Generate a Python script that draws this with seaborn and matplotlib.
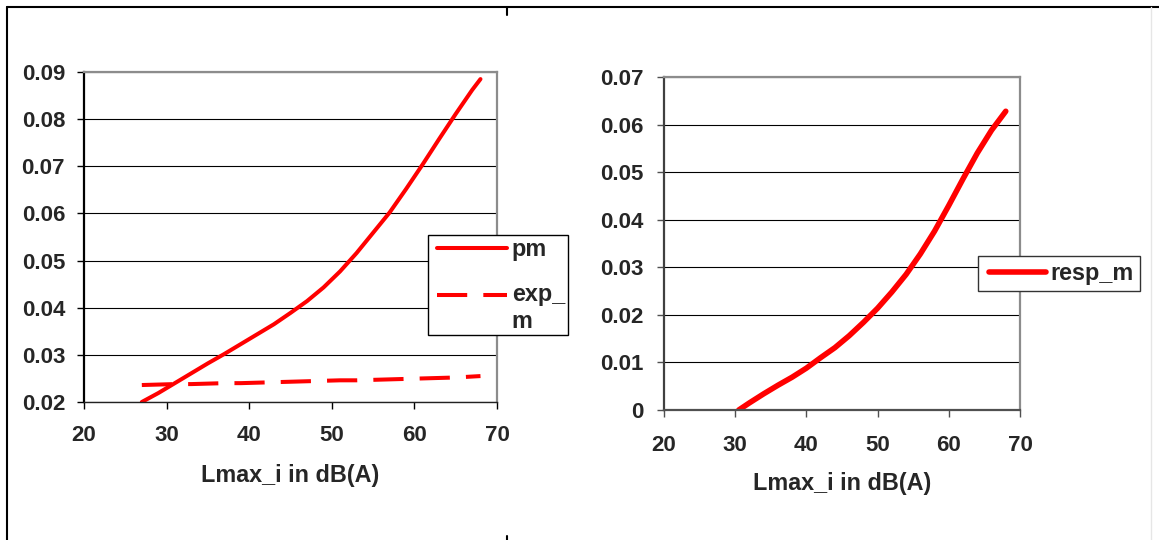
import numpy as np
import matplotlib
matplotlib.use("Agg")
import matplotlib.pyplot as plt
import seaborn as sns
from matplotlib.lines import Line2D
from matplotlib.legend_handler import HandlerLine2D
from matplotlib.ticker import FuncFormatter, MultipleLocator

# Left panel: probability curves against maximum level
level_left = [27, 29, 31, 33, 35, 37, 39, 41, 43, 45, 47, 49, 51, 53, 55,
              57, 59, 61, 63, 65, 67, 68]
pm = [0.0200, 0.0219, 0.0240, 0.0261, 0.0282, 0.0302, 0.0323, 0.0344,
      0.0365, 0.0389, 0.0414, 0.0443, 0.0477, 0.0516, 0.0559, 0.0602,
      0.0652, 0.0704, 0.0758, 0.0811, 0.0862, 0.0885]
exp_m = [0.0236, 0.0237, 0.0238, 0.0238, 0.0239, 0.0240, 0.0240, 0.0241,
         0.0242, 0.0243, 0.0244, 0.0245, 0.0246, 0.0246, 0.0247, 0.0248,
         0.0249, 0.0250, 0.0251, 0.0252, 0.0254, 0.0255]

# Right panel: response curve
level_right = [30.5, 32, 34, 36, 38, 40, 42, 44, 46, 48, 50, 52, 54, 56,
               58, 60, 62, 64, 66, 68]
resp_m = [0.0, 0.0015, 0.0034, 0.0052, 0.0069, 0.0088, 0.0110, 0.0131,
          0.0156, 0.0184, 0.0214, 0.0248, 0.0285, 0.0328, 0.0376, 0.0430,
          0.0486, 0.0540, 0.0588, 0.0628]

x_ticks = [20, 30, 40, 50, 60, 70]
x_label = "Lmax_i in dB(A)"

sns.set_theme(style="white")
plt.rcParams["font.family"] = ["Liberation Sans", "DejaVu Sans"]
plt.rcParams["font.weight"] = "bold"
TICK_FS = 16
TEXT_FS = 16.8

W, H = 1159, 540
fig = plt.figure(figsize=(W / 100, H / 100), dpi=100)
fig.patch.set_facecolor("white")

ax1 = fig.add_axes([84 / W, 1 - 402 / H, 413 / W, 330 / H])
ax2 = fig.add_axes([664 / W, 1 - 410 / H, 356 / W, 333 / H])


class InsetLine(HandlerLine2D):
    """Legend line with a left inset, optionally lifted to the first text line."""

    def __init__(self, inset=0.0, lift=0.0, **kw):
        super().__init__(**kw)
        self.inset = inset
        self.lift = lift

    def create_artists(self, legend, orig_handle, xdescent, ydescent,
                       width, height, fontsize, trans):
        arts = super().create_artists(legend, orig_handle, xdescent, ydescent,
                                      width, height, fontsize, trans)
        for a in arts:
            xd = np.asarray(a.get_xdata(), dtype=float)
            if xd.size >= 2:
                x0 = xd.min() + self.inset * fontsize
                xd = np.where(xd < x0, x0, xd)
                a.set_xdata(xd)
            a.set_ydata(np.asarray(a.get_ydata()) + self.lift * fontsize)
        return arts


def style_axes(ax, ymin, ymax, left_col, bottom_col, bottom_lw, tick_col, ypad, xpad):
    ax.set_xlim(20, 70)
    ax.set_ylim(ymin, ymax)
    ax.set_xticks(x_ticks)
    ax.yaxis.set_major_locator(MultipleLocator(0.01))
    ax.yaxis.set_major_formatter(FuncFormatter(lambda v, p: f"{round(v, 4):g}"))
    ax.set_axisbelow(True)
    ax.grid(axis="y", color="black", lw=0.8)
    ax.grid(axis="x", visible=False)
    for side in ("top", "right"):
        ax.spines[side].set_color("#8c8c8c")
        ax.spines[side].set_linewidth(1.6)
    ax.spines["left"].set_color(left_col)
    ax.spines["left"].set_linewidth(1.6)
    ax.spines["bottom"].set_color(bottom_col)
    ax.spines["bottom"].set_linewidth(bottom_lw)
    ax.tick_params(axis="y", direction="out", length=5, width=1, color=tick_col,
                   labelsize=TICK_FS, pad=ypad, left=True)
    ax.tick_params(axis="x", direction="out", length=5, width=1, color=tick_col,
                   labelsize=TICK_FS, pad=xpad, bottom=True)
    for lab in ax.get_xticklabels() + ax.get_yticklabels():
        lab.set_fontweight("bold")
    ax.set_xlabel(x_label, fontsize=TEXT_FS, fontweight="bold")
    ax.set_ylabel("")


def round_line(ln):
    ln.set_solid_capstyle("round")
    ln.set_solid_joinstyle("round")
    ln.set_dash_joinstyle("round")


# Left panel
sns.lineplot(x=level_left, y=pm, ax=ax1, color="#ff0000", lw=2.9,
             legend=False, sort=False)
sns.lineplot(x=level_left, y=exp_m, ax=ax1, color="#ff0000", lw=2.9,
             legend=False, sort=False)
pm_line, exp_line = ax1.lines[0], ax1.lines[1]
exp_line.set_dashes((7.5, 4.0))
for ln in ax1.lines:
    round_line(ln)
style_axes(ax1, 0.02, 0.09, "black", "#222222", 1.0, "black", 8.6, 11.5)
ax1.xaxis.set_label_coords(0.5, -0.224)
ax1.xaxis.label.set_va("center")

leg1 = ax1.legend([pm_line, exp_line], ["pm", "exp_\nm"],
                  loc="upper left", bbox_to_anchor=(428 / W, 1 - 235 / H),
                  bbox_transform=fig.transFigure, borderaxespad=0,
                  fontsize=TEXT_FS, handlelength=3.25, handletextpad=0.22,
                  labelspacing=0.95, borderpad=0.12, frameon=True,
                  fancybox=False, framealpha=1, edgecolor="black",
                  handler_map={pm_line: InsetLine(inset=0.27),
                               exp_line: InsetLine(inset=0.27, lift=0.6)})
leg1.get_frame().set_linewidth(1.0)
for t in leg1.get_texts():
    t.set_fontweight("bold")

# Right panel
sns.lineplot(x=level_right, y=resp_m, ax=ax2, color="#ff0000", lw=4.0,
             legend=False, sort=False)
resp_line = ax2.lines[0]
round_line(resp_line)
style_axes(ax2, 0.0, 0.07, "#404040", "#505050", 1.6, "#505050", 10, 13)
ax2.xaxis.set_label_coords(0.5, -0.222)
ax2.xaxis.label.set_va("center")

leg2 = ax2.legend([resp_line], ["resp_m"],
                  loc="upper left", bbox_to_anchor=(978 / W, 1 - 256 / H),
                  bbox_transform=fig.transFigure, borderaxespad=0,
                  fontsize=TEXT_FS, handlelength=2.65, handletextpad=0.22,
                  borderpad=0.25, frameon=True, fancybox=False, framealpha=1,
                  edgecolor="#333333",
                  handler_map={resp_line: InsetLine(inset=0.2)})
leg2.get_frame().set_linewidth(1.0)
for t in leg2.get_texts():
    t.set_fontweight("bold")

# Page frame around the two panels
frame_kw = dict(transform=fig.transFigure, color="black", lw=1.5)
fig.add_artist(Line2D([7 / W, 7 / W], [0, 1 - 7 / H], **frame_kw))
fig.add_artist(Line2D([7 / W, 1], [1 - 7 / H, 1 - 7 / H], **frame_kw))
fig.add_artist(Line2D([507 / W, 507 / W], [1 - 7 / H, 1 - 15 / H], **frame_kw))
fig.add_artist(Line2D([507 / W, 507 / W], [0, 4 / H], **frame_kw))
fig.add_artist(Line2D([1151 / W, 1151 / W], [0, 1 - 7 / H],
                      transform=fig.transFigure, color="#e6e6e6", lw=1))

fig.savefig("out.png", dpi=100, facecolor="white")
